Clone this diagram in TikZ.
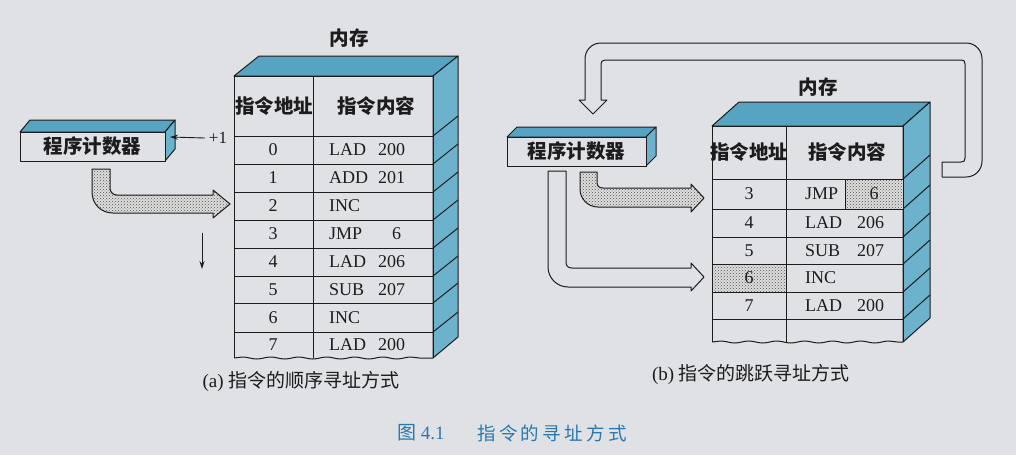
\documentclass[tikz,border=0pt]{standalone}
\usepackage{fontspec}
\setmainfont{Liberation Serif}
\newfontfamily\cjk{Noto Sans CJK SC}
\newfontfamily\cjkwide[LetterSpace=18]{Noto Sans CJK SC}
\usetikzlibrary{patterns,arrows.meta,decorations.pathmorphing}
\definecolor{bg}{RGB}{224,225,229}
\definecolor{topc}{RGB}{86,164,194}
\definecolor{sidec}{RGB}{108,178,204}
\definecolor{capc}{RGB}{40,120,175}
\definecolor{ink}{RGB}{28,28,30}
\tikzset{
  cjktext/.style={font=\cjk\fontsize{19}{21}\selectfont, text=ink, inner sep=0},
  hdrtext/.style={font=\cjk\bfseries\fontsize{19.5}{21}\selectfont, text=ink, inner sep=0},
  celltext/.style={font=\fontsize{18}{20}\selectfont, text=ink, inner sep=0},
  face/.style={draw=ink, line width=1pt, line join=round},
  hatch/.style={draw=ink, line width=1pt, line join=round, preaction={fill=gray!25}, pattern=crosshatch dots, pattern color=gray!60!black},
  hollow/.style={draw=ink, line width=1pt, line join=round, fill=bg},
  thinarrow/.style={draw=ink, line width=0.9pt, -{Stealth[length=8pt,width=5pt]}},
  wavy/.style={draw=ink, line width=1pt, decorate, decoration={snake, amplitude=1pt, segment length=28pt}},
  pcbox/.style={draw=ink, line width=1pt, fill=bg, inner sep=0, font=\cjk\bfseries\fontsize{19.5}{21}\selectfont, text=ink},
}
\begin{document}
\begin{tikzpicture}[x=1pt,y=-1pt]
\useasboundingbox (0,0) rectangle (1016,455);
\fill[bg] (0,0) rectangle (1016,455);

%================ (a) =================
% memory
\draw[face, fill=topc] (234,76) -- (259,56) -- (458,56) -- (433,76) -- cycle;
\draw[face, fill=sidec] (433,76) -- (458,56) -- (458,337) -- (433,358) -- cycle;
\foreach \y in {136,164,192,220,248,276,303,332}
  \draw[face] (433,\y) -- (458,\y-20);
\draw[face] (234,358) -- (234,76) -- (433,76) -- (433,358);
\draw[wavy] (234,358) -- (433,358);
\draw[face] (313,76) -- (313,358);
\foreach \y in {136,164,192,220,248,276,303,332}
  \draw[face] (234,\y) -- (433,\y);
\node[hdrtext] (memA) at (349,38) {内存};
\node[hdrtext] (hAaddr) at (274,106) {指令地址};
\node[hdrtext] (hAcont) at (376,106) {指令内容};
\foreach \i/\op/\n/\nx/\y in {0/LAD/200/378/150, 1/ADD/201/378/178, 2/INC/{}/378/206, 3/JMP/6/392/234, 4/LAD/206/378/262, 5/SUB/207/378/290, 6/INC/{}/378/318, 7/LAD/200/378/345}{
  \node[celltext] (aAd\i) at (273,\y) {\i};
  \node[celltext, anchor=west] (aOp\i) at (329,\y) {\op};
  \node[celltext, anchor=west] (aN\i) at (\nx,\y) {\n};
}

% program counter (a)
\draw[face, fill=topc] (20,132) -- (30,120) -- (175,120) -- (165,132) -- cycle;
\draw[face, fill=sidec] (165,132) -- (175,120) -- (175,149) -- (165,161) -- cycle;
\node[pcbox, minimum width=145pt, minimum height=29pt] (pcA) at (92.5,146.5) {程序计数器};
\coordinate (pcAside) at (170,137);
\node[celltext, font=\fontsize{17}{19}\selectfont] (plus1) at (218,138) {+1};
\draw[thinarrow] (plus1.west) ++(-4,0) coordinate (p1s) (p1s) -- (pcAside);

% hatched arrow (a)
\path[hatch] (92,169) -- (110,169) -- (110,188) .. controls (110,192) and (113,195) .. (117,195)
  -- (213,195) -- (213,190) -- (230,204) -- (213,218) -- (213,213) -- (113,213)
  .. controls (101,213) and (92,204) .. (92,192) -- cycle;

% down arrow
\coordinate (dA1) at (202,233);
\coordinate (dA2) at (202,269);
\draw[thinarrow] (dA1) -- (dA2);

\node[cjktext] (capA) at (301,381) {\fontspec{Liberation Serif}(a)\ \cjk 指令的顺序寻址方式};

%================ (b) =================
% return arrow
\path[hollow] (942,177) -- (966,177) .. controls (975,177) and (982,170) .. (982,161)
  -- (982,59) .. controls (982,50) and (975,43) .. (966,43)
  -- (601,43) .. controls (592,43) and (585,50) .. (585,59)
  -- (585,100) -- (579,100) -- (593,114) -- (607,100) -- (601,100)
  -- (601,64) .. controls (601,62) and (602,60) .. (605,60)
  -- (961,60) .. controls (964,60) and (965,61) .. (965,64)
  -- (965,158) .. controls (965,161) and (964,162) .. (961,162)
  -- (942,162) -- cycle;

% memory (b)
\draw[face, fill=topc] (712,126) -- (739,102) -- (930,102) -- (903,126) -- cycle;
\draw[face, fill=sidec] (903,126) -- (930,102) -- (930,318) -- (903,342) -- cycle;
\foreach \y in {179,209,237,264,292,319}
  \draw[face] (903,\y) -- (930,\y-24);
\path[hatch] (845,179) rectangle (903,209);
\path[hatch] (712,264) rectangle (786,292);
\draw[face] (712,342) -- (712,126) -- (903,126) -- (903,342);
\draw[wavy] (712,342) -- (903,342);
\draw[face] (786,126) -- (786,342);
\foreach \y in {179,209,237,264,292,319}
  \draw[face] (712,\y) -- (903,\y);
\node[hdrtext] (memB) at (818,87) {内存};
\node[hdrtext] (hBaddr) at (749,152) {指令地址};
\node[hdrtext] (hBcont) at (847,152) {指令内容};
\foreach \i/\op/\n/\y in {3/JMP/{}/194, 4/LAD/206/223, 5/SUB/207/250.5, 6/INC/{}/278, 7/LAD/200/305.5}{
  \node[celltext] (bAd\i) at (749,\y) {\i};
  \node[celltext, anchor=west] (bOp\i) at (805,\y) {\op};
  \node[celltext, anchor=west] (bN\i) at (857,\y) {\n};
}
\node[celltext] (bJmp6) at (874,194) {6};

% program counter (b)
\draw[face, fill=topc] (507,137) -- (517,127) -- (656,127) -- (646,137) -- cycle;
\draw[face, fill=sidec] (646,137) -- (656,127) -- (656,156) -- (646,166) -- cycle;
\node[pcbox, minimum width=139pt, minimum height=29pt] (pcB) at (576.5,151.5) {程序计数器};

% hatched arrow (b)
\path[hatch] (580,172) -- (597,172) -- (597,182) .. controls (597,186) and (599,188) .. (603,188)
  -- (691,188) -- (691,184) -- (704,198) -- (691,212) -- (691,207) -- (598,207)
  .. controls (588,207) and (580,199) .. (580,189) -- cycle;

% white arrow (b)
\path[hollow] (548,171) -- (566,171) -- (566,262) .. controls (566,266) and (568,268) .. (572,268)
  -- (691,268) -- (691,263) -- (704,277) -- (691,291) -- (691,287) -- (568,287)
  .. controls (557,287) and (548,278) .. (548,267) -- cycle;

\node[cjktext] (capB) at (751,374) {\fontspec{Liberation Serif}(b)\ \cjk 指令的跳跃寻址方式};

%================ figure caption =================
\node[inner sep=0, anchor=west, text=capc, font=\fontsize{19}{21}\selectfont] (figno) at (397,433) {{\cjk 图}\ 4.1};
\node[inner sep=0, anchor=west, text=capc, font=\cjkwide\fontsize{18.5}{21}\selectfont] (figtitle) at (477,433) {指令的寻址方式};
\end{tikzpicture}
\end{document}
